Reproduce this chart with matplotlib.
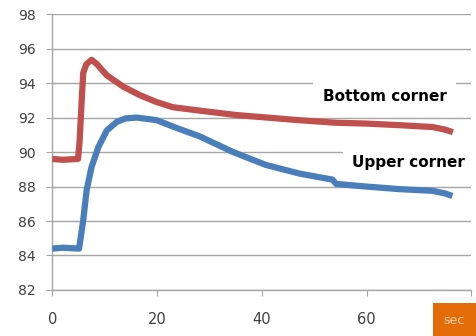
import numpy as np
import matplotlib
matplotlib.use("Agg")
import matplotlib.pyplot as plt
from matplotlib.patches import Rectangle

# readings taken off the chart (time in sec)
t_bottom = [0, 2, 4.9, 5.2, 5.6, 5.9, 6.5, 7.5, 8.5, 10.4, 13.5, 16.7, 19.9, 23.0,
            28.2, 35.0, 41.0, 47.0, 54.1, 60.0, 66.8, 72.6, 75.0, 76.5]
v_bottom = [89.6, 89.55, 89.6, 90.6, 93.0, 94.6, 95.1, 95.35, 95.1, 94.45, 93.8, 93.3,
            92.9, 92.6, 92.4, 92.15, 92.0, 91.85, 91.7, 91.65, 91.55, 91.45, 91.3, 91.15]

t_upper = [0, 2, 5.1, 5.9, 6.55, 7.5, 8.8, 10.4, 12.3, 14.0, 16.1, 19.9, 23.7, 28.2,
           34.5, 40.8, 47.2, 53.5, 54.2, 59.9, 66.2, 72.6, 75.0, 76.4]
v_upper = [84.4, 84.45, 84.4, 86.05, 87.8, 89.15, 90.3, 91.25, 91.75, 91.95, 92.0, 91.85,
           91.4, 90.9, 90.0, 89.25, 88.75, 88.4, 88.15, 88.0, 87.85, 87.75, 87.6, 87.45]

x_ticks = [0, 20, 40, 60, 80]
x_labels = ['0', '20', '40', '60', '']   # the 80 sits under the "sec" tag
y_ticks = [82, 84, 86, 88, 90, 92, 94, 96, 98]

fig = plt.figure(figsize=(4.76, 3.36), dpi=100)
ax = fig.add_axes([0.110, 0.137, 0.880, 0.821])

ax.plot(t_bottom, v_bottom, color='#c0504d', linewidth=4.5, solid_capstyle='butt', zorder=3)
ax.plot(t_upper, v_upper, color='#4a7ebb', linewidth=4.5, solid_capstyle='butt', zorder=3)

ax.set_xlim(0, 80)
ax.set_ylim(82, 98)
ax.set_xticks(x_ticks)
ax.set_xticklabels(x_labels)
ax.set_yticks(y_ticks)
ax.set_axisbelow(True)
ax.grid(axis='y', color='#a6a6a6', linewidth=1.0)

for s in ['top', 'right']:
    ax.spines[s].set_visible(False)
for s in ['left', 'bottom']:
    ax.spines[s].set_color('#a6a6a6')
    ax.spines[s].set_linewidth(1.0)

ax.tick_params(axis='y', colors='#a6a6a6', labelcolor='#404040', labelsize=10,
               length=4, pad=8)
ax.tick_params(axis='x', colors='#a6a6a6', labelcolor='#404040', labelsize=10.5,
               length=4, pad=12)

box = dict(facecolor='white', edgecolor='none', pad=7)
ax.text(51.6, 93.2, 'Bottom corner', fontsize=11, fontweight='bold', va='center',
        ha='left', bbox=box, zorder=2)
ax.text(57.3, 89.4, 'Upper corner', fontsize=11, fontweight='bold', va='center',
        ha='left', bbox=box, zorder=2)

# orange unit tag in the corner
fig.patches.append(Rectangle((432.7 / 476, 0), 1 - 432.7 / 476, 33 / 336,
                             transform=fig.transFigure, facecolor='#e36c09',
                             edgecolor='none', zorder=5))
fig.text(454 / 476, 15.5 / 336, 'sec', color='#f8cfa8', fontsize=9,
         ha='center', va='center', zorder=6)

fig.savefig('out.png', dpi=100)
